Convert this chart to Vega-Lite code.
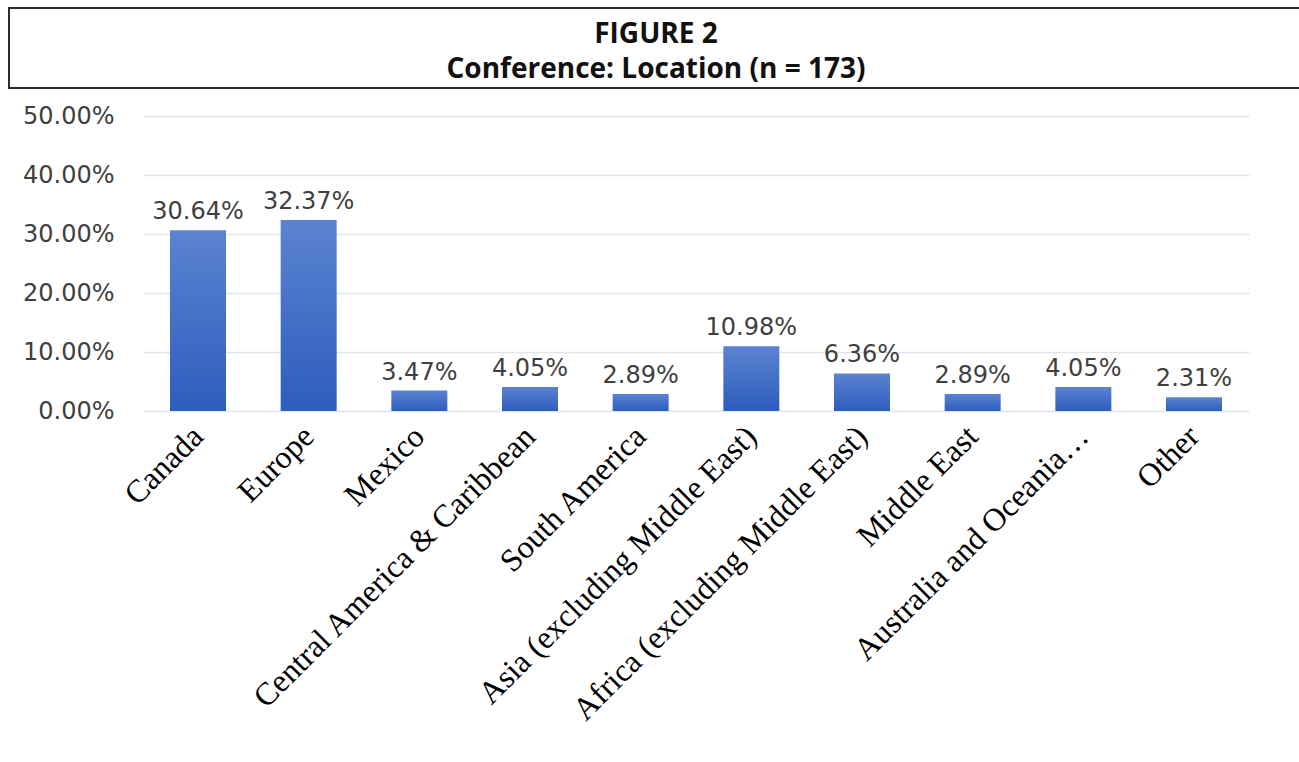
{
  "$schema": "https://vega.github.io/schema/vega-lite/v6.json",
  "padding": {"left": 8, "top": 7, "right": 0, "bottom": 0},
  "background": "white",
  "spacing": 28,
  "bounds": "flush",
  "center": true,
  "datasets": {
    "heading": [
      {"line": "FIGURE 2", "order": 1},
      {"line": "Conference: Location (n = 173)", "order": 2}
    ],
    "locations": [
      {"location": "Canada", "share": 0.3064},
      {"location": "Europe", "share": 0.3237},
      {"location": "Mexico", "share": 0.0347},
      {"location": "Central America & Caribbean", "share": 0.0405},
      {"location": "South America", "share": 0.0289},
      {"location": "Asia (excluding Middle East)", "share": 0.1098},
      {"location": "Africa (excluding Middle East)", "share": 0.0636},
      {"location": "Middle East", "share": 0.0289},
      {"location": "Australia and Oceania…", "share": 0.0405},
      {"location": "Other", "share": 0.0231}
    ]
  },
  "vconcat": [
    {
      "width": 1374,
      "height": 80,
      "view": {"stroke": "#2b2b2b", "strokeWidth": 2, "fill": "white"},
      "data": {"name": "heading"},
      "mark": {"type": "text", "font": "Open Sans", "fontWeight": "bold", "fontSize": 28, "color": "#111111", "baseline": "middle", "dx": -40},
      "encoding": {
        "y": {"field": "order", "type": "ordinal", "axis": null, "scale": {"type": "point", "padding": 0.643, "align": 0.6}},
        "text": {"field": "line"}
      }
    },
    {
      "width": 1106,
      "height": 295,
      "view": {"stroke": null},
      "data": {"name": "locations"},
      "encoding": {
        "x": {
          "field": "location", "type": "nominal", "sort": null,
          "scale": {"paddingInner": 0.494, "paddingOuter": 0.244},
          "axis": {
            "title": null, "labelAngle": -45, "labelAlign": "right", "labelBaseline": "middle",
            "labelFont": "Liberation Serif", "labelFontSize": 32, "labelColor": "#000000",
            "labelPadding": 20, "labelLimit": 0, "ticks": false, "domain": false
          }
        },
        "y": {
          "field": "share", "type": "quantitative",
          "scale": {"domain": [0, 0.5], "nice": false},
          "axis": {
            "title": null, "values": [0, 0.1, 0.2, 0.3, 0.4, 0.5], "format": ".2%",
            "domain": false, "ticks": false, "labelPadding": 29,
            "labelFont": "DejaVu Sans", "labelFontSize": 24, "labelColor": "#404040",
            "grid": true, "gridColor": "#e1e5ec", "gridWidth": 1.5
          }
        }
      },
      "layer": [
        {
          "mark": {
            "type": "bar",
            "color": {
              "gradient": "linear", "x1": 0, "y1": 0, "x2": 0, "y2": 1,
              "stops": [{"offset": 0, "color": "#5b83d0"}, {"offset": 1, "color": "#2d5dbd"}]
            }
          }
        },
        {
          "mark": {"type": "text", "baseline": "bottom", "dy": -6, "font": "DejaVu Sans", "fontSize": 24, "color": "#404040"},
          "encoding": {"text": {"field": "share", "type": "quantitative", "format": ".2%"}}
        }
      ]
    }
  ]
}
